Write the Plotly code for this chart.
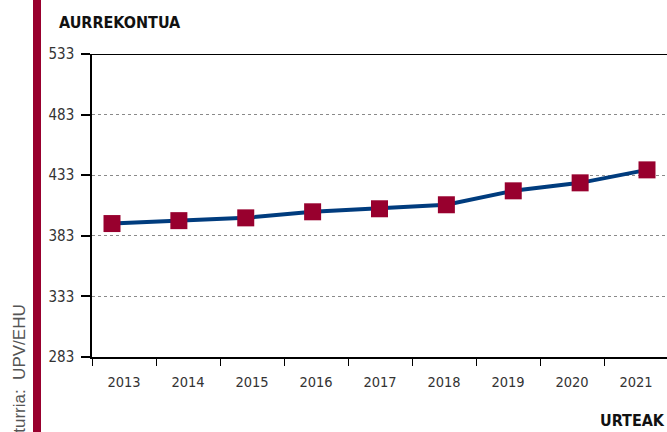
import plotly.graph_objects as go

years = [2013, 2014, 2015, 2016, 2017, 2018, 2019, 2020, 2021]
year_labels = [str(y) for y in years]
budget = [393.1, 395.5, 397.8, 402.8, 405.3, 408.6, 420.1, 426.7, 437.4]
y_ticks = [283, 333, 383, 433, 483, 533]

W, H = 667, 432
ML, MR, MT, MB = 92, 0, 54, 75
PW = W - ML - MR
PH = H - MT - MB

FONT = "DejaVu Sans Condensed, Roboto, sans-serif"
SRC_FONT = "Liberation Sans, Arial, sans-serif"
MAROON = "#98002e"
BLUE = "#003c7e"

fig = go.Figure()
fig.add_trace(go.Scatter(
    x=years, y=budget, mode="lines+markers",
    line=dict(color=BLUE, width=4),
    marker=dict(symbol="square", size=17, color=MAROON),
    xaxis="x", yaxis="y", showlegend=False, hoverinfo="x+y"))
fig.add_trace(go.Scatter(
    x=year_labels, y=budget, mode="markers", opacity=0,
    xaxis="x2", yaxis="y", showlegend=False, hoverinfo="skip"))

fig.update_layout(
    width=W, height=H,
    margin=dict(l=ML, r=MR, t=MT, b=MB),
    paper_bgcolor="white", plot_bgcolor="white",
    font=dict(family=FONT, size=14, color="#333333"),
    xaxis=dict(range=[2012.701, 2021.299], showticklabels=False, ticks="",
               showgrid=False, zeroline=False, showline=True,
               linecolor="black", linewidth=1.5),
    xaxis2=dict(type="category", categoryorder="array", categoryarray=year_labels,
                range=[-0.5, 8.484], overlaying="x", side="bottom",
                tickson="boundaries", ticks="outside", ticklen=8,
                tickcolor="black", tickwidth=1, showgrid=False,
                showline=False, zeroline=False, ticklabelstandoff=14,
                tickfont=dict(family=FONT, size=14.5, color="#333333")),
    yaxis=dict(range=[283, 533], tickvals=y_ticks, ticks="outside",
               ticklen=9, tickcolor="black", tickwidth=1.5,
               showline=True, linecolor="black", linewidth=1.5,
               showgrid=True, gridcolor="#8a8a8a", griddash="dot", gridwidth=1,
               zeroline=False, ticklabelstandoff=4,
               tickfont=dict(family=FONT, size=15, color="#333333")),
    shapes=[
        dict(type="line", xref="paper", yref="y", x0=0, x1=1, y0=533, y1=533,
             line=dict(color="black", width=2)),
        dict(type="rect", xref="paper", yref="paper",
             x0=(33 - ML) / PW, x1=(41 - ML) / PW,
             y0=-MB / PH - 0.01, y1=1 + MT / PH + 0.01,
             fillcolor=MAROON, line=dict(width=0), layer="above"),
    ],
    annotations=[
        dict(text="<b>AURREKONTUA</b>", xref="paper", yref="paper",
             x=(57 - ML) / PW, y=1 + (MT - 23) / PH, xanchor="left", yanchor="middle",
             showarrow=False, font=dict(family=FONT, size=16, color="#111111")),
        dict(text="<b>URTEAK</b>", xref="paper", yref="paper",
             x=1, y=(MT + PH - 421) / PH, xanchor="right", yanchor="middle",
             showarrow=False, font=dict(family=FONT, size=16, color="#111111")),
        dict(text="Iturria:  UPV/EHU", xref="paper", yref="paper",
             x=(19 - ML) / PW, y=(MT + PH - 303) / PH, xanchor="center", yanchor="top",
             textangle=-90, showarrow=False,
             font=dict(family=SRC_FONT, size=17, color="#555555")),
    ],
)

fig.write_html("out.html", config={"displayModeBar": False},
               post_script="document.body.style.margin='0px';")
